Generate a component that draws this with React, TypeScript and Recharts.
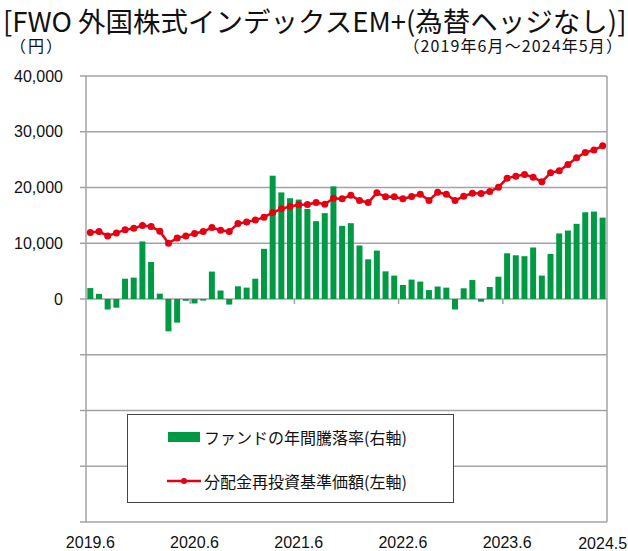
import { Bar, CartesianGrid, ComposedChart, Legend, Line, ReferenceLine, XAxis, YAxis } from "recharts";

const months = [
  "2019.6", "2019.7", "2019.8", "2019.9", "2019.10", "2019.11", "2019.12",
  "2020.1", "2020.2", "2020.3", "2020.4", "2020.5", "2020.6", "2020.7", "2020.8", "2020.9", "2020.10", "2020.11", "2020.12",
  "2021.1", "2021.2", "2021.3", "2021.4", "2021.5", "2021.6", "2021.7", "2021.8", "2021.9", "2021.10", "2021.11", "2021.12",
  "2022.1", "2022.2", "2022.3", "2022.4", "2022.5", "2022.6", "2022.7", "2022.8", "2022.9", "2022.10", "2022.11", "2022.12",
  "2023.1", "2023.2", "2023.3", "2023.4", "2023.5", "2023.6", "2023.7", "2023.8", "2023.9", "2023.10", "2023.11", "2023.12",
  "2024.1", "2024.2", "2024.3", "2024.4", "2024.5",
];

// ファンドの年間騰落率 (%), right axis
const annualReturn = [
  4.9, 2.3, -4.7, -3.9, 9.1, 9.6, 25.8,
  16.6, 2.4, -14.5, -10.6, -0.8, -2.0, -0.7, 12.3, 3.8, -2.5, 5.7, 5.1,
  9.1, 22.5, 55.3, 47.8, 45.2, 44.6, 40.4, 34.9, 38.5, 50.5, 32.8, 34.0,
  24.0, 17.8, 21.7, 12.4, 10.5, 6.3, 8.7, 7.8, 4.0, 5.6, 5.1, -4.7,
  4.8, 8.5, -1.2, 5.4, 10.0, 20.5, 19.6, 19.2, 23.1, 10.5, 20.2, 29.4,
  30.7, 33.7, 38.9, 39.2, 36.5,
];

// 分配金再投資基準価額 (円), left axis
const navReinvested = [
  11920, 12100, 11320, 11860, 12400, 12700, 13170,
  12990, 12160, 10000, 10960, 11320, 11740, 12100, 12810, 12340, 12100, 13530, 13800,
  14150, 14670, 15510, 16170, 16590, 16890, 16950, 17310, 17010, 18080, 17960, 18620,
  17660, 17310, 19040, 18320, 18320, 17960, 18380, 18780, 17690, 19130, 18800, 17660,
  18440, 18980, 18920, 19280, 20060, 21680, 22040, 22340, 21860, 21020, 22630, 22990,
  24130, 25330, 26290, 26710, 27490,
];

const labeledMonths = ["2019.6", "2020.6", "2021.6", "2022.6", "2023.6", "2024.5"];
const leftTicks = [-40000, -30000, -20000, -10000, 0, 10000, 20000, 30000, 40000];
const rightTicks = [-100, -75, -50, -25, 0, 25, 50, 75, 100];
const yearMarks = ["2020.6", "2021.6", "2022.6", "2023.6"];

const data = months.map((month, i) => ({
  month,
  rate: annualReturn[i],
  nav: navReinvested[i],
}));

const green = "#009a44";
const red = "#e60012";
const grey = "#a3a3a3";
const numFont = "'Liberation Sans', Arial, sans-serif";
const jpFont = "'Noto Sans CJK JP', sans-serif";

const MonthTick = (props: any) => {
  const { x, y, payload } = props;
  if (!labeledMonths.includes(payload.value)) return null;
  const last = payload.value === months[months.length - 1];
  return (
    <text x={x} y={y + 25.5 + (last ? 1.5 : 0)} textAnchor="middle" fontSize={16} fontFamily={numFont} fill="#111">
      {payload.value}
    </text>
  );
};

const LegendBox = () => (
  <div
    style={{
      width: 327,
      height: 89,
      boxSizing: "border-box",
      border: "1.5px solid #444",
      background: "#fff",
      position: "relative",
      fontFamily: jpFont,
      fontSize: 16,
      color: "#111",
    }}
  >
    <div style={{ position: "absolute", left: 40, top: 17, width: 32, height: 10, background: green }} />
    <div style={{ position: "absolute", left: 76, top: 10, lineHeight: "24px", whiteSpace: "nowrap" }}>ファンドの年間騰落率(右軸)</div>
    <svg style={{ position: "absolute", left: 39, top: 60 }} width={34} height={12}>
      <line x1={0} y1={6} x2={34} y2={6} stroke={red} strokeWidth={2.5} />
      <circle cx={17} cy={6} r={3} fill={red} />
    </svg>
    <div style={{ position: "absolute", left: 76, top: 54, lineHeight: "24px", whiteSpace: "nowrap" }}>分配金再投資基準価額(左軸)</div>
  </div>
);

export default function App() {
  return (
    <div style={{ position: "absolute", left: 0, top: 0, width: 628, height: 551, background: "#fff" }}>
      <div
        style={{
          position: "absolute",
          left: 3,
          top: 7,
          fontFamily: jpFont,
          fontSize: 27.5,
          lineHeight: "26px",
          whiteSpace: "nowrap",
          color: "#111",
        }}
      >
        [FWO 外国株式インデックスEM+(為替ヘッジなし)]
      </div>
      <div
        style={{
          position: "absolute",
          left: 10,
          top: 37,
          fontFamily: jpFont,
          fontSize: 16,
          lineHeight: "16px",
          letterSpacing: 2,
          color: "#111",
        }}
      >
        （円）
      </div>
      <div
        style={{
          position: "absolute",
          right: 5,
          top: 37,
          fontFamily: jpFont,
          fontSize: 16,
          lineHeight: "16px",
          letterSpacing: 1.1,
          whiteSpace: "nowrap",
          color: "#111",
        }}
      >
        （2019年6月～2024年5月）
      </div>
      <ComposedChart
        width={628}
        height={551}
        data={data}
        margin={{ top: 76, right: 15, bottom: 0, left: 0 }}
        barCategoryGap="15%"
        style={{ position: "absolute", left: 0, top: 0 }}
      >
        <CartesianGrid yAxisId="left" vertical={false} stroke={grey} strokeWidth={1.5} />
        <XAxis
          dataKey="month"
          interval={0}
          height={29}
          axisLine={false}
          tickLine={false}
          tickSize={0}
          tickMargin={0}
          tick={<MonthTick />}
        />
        <YAxis
          yAxisId="left"
          domain={[-40000, 40000]}
          ticks={leftTicks}
          width={86}
          stroke={grey}
          strokeWidth={1.5}
          tickSize={6}
          tickMargin={17}
          tick={{ fontSize: 16, fontFamily: numFont, fill: "#111" }}
          tickFormatter={(v: number) => (v < 0 ? "" : v.toLocaleString("en-US"))}
        />
        <YAxis
          yAxisId="right"
          orientation="right"
          domain={[-100, 100]}
          ticks={rightTicks}
          width={6}
          stroke={grey}
          strokeWidth={1.5}
          tickSize={5}
          tick={false}
        />
        {yearMarks.map((m) => (
          <ReferenceLine
            key={m}
            yAxisId="left"
            position="start"
            segment={[
              { x: m, y: 0 },
              { x: m, y: -900 },
            ]}
            stroke={grey}
            strokeWidth={1.5}
          />
        ))}
        <Bar yAxisId="right" dataKey="rate" name="ファンドの年間騰落率(右軸)" fill={green} isAnimationActive={false} />
        <Line
          yAxisId="left"
          dataKey="nav"
          name="分配金再投資基準価額(左軸)"
          type="linear"
          stroke={red}
          strokeWidth={2.5}
          dot={{ r: 3.5, fill: red, stroke: red, strokeWidth: 0 }}
          activeDot={false}
          isAnimationActive={false}
        />
        <Legend
          layout="horizontal"
          verticalAlign="middle"
          align="center"
          content={<LegendBox />}
          wrapperStyle={{ left: 127, top: 414, width: 327, height: 89 }}
        />
      </ComposedChart>
    </div>
  );
}
